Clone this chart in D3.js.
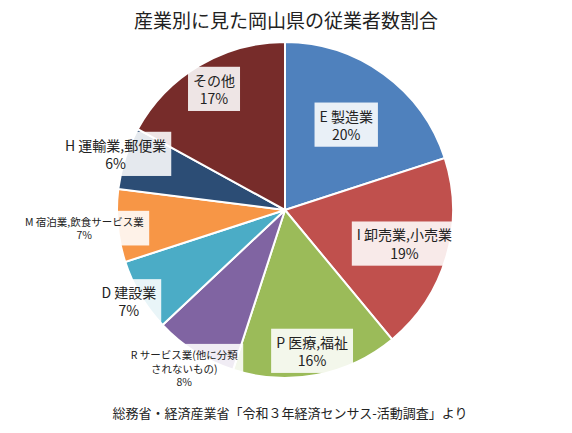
<!DOCTYPE html>
<html><head><meta charset="utf-8">
<script src="https://cdn.jsdelivr.net/npm/d3@7"></script>
<style>body{margin:0;background:#fff;font-family:"Noto Sans CJK JP",sans-serif}</style>
</head><body><svg id="chart" width="572" height="433"></svg>
<script>
// data
var categories = ["E 製造業", "I 卸売業,小売業", "P 医療,福祉", "R サービス業(他に分類|されないもの)", "D 建設業", "M 宿泊業,飲食サービス業", "H 運輸業,郵便業", "その他"];
var shares = [20, 19, 16, 8, 7, 7, 6, 17];
var colors = ["#4f81bd", "#c0504d", "#9bbb59", "#8064a2", "#4bacc6", "#f79646", "#2c4d75", "#772c2a"];
var small = [false, false, false, true, false, true, false, false];
// how far out each label sits, as a share of the pie radius
var labelPos = [0.62, 0.74, 0.86, 1.12, 1.08, 1.2, 1.06, 0.83];

var svg = d3.select("#chart");
var cx = 285, cy = 210, r = 168;

svg.append("text").attr("x", 286).attr("y", 28).attr("text-anchor", "middle")
  .style("font-size", "19px").attr("fill", "#222").text("産業別に見た岡山県の従業者数割合");

var pie = d3.pie().sort(null).value(function(d) { return d; });
var arcs = pie(shares);
var arc = d3.arc().innerRadius(0).outerRadius(r);

var g = svg.append("g").attr("transform", "translate(" + cx + "," + cy + ")");
g.selectAll("path").data(arcs).enter().append("path")
  .attr("d", arc).attr("fill", function(d, i) { return colors[i]; })
  .attr("stroke", "#fff").attr("stroke-width", 2);

// labels with white boxes
arcs.forEach(function(d, i) {
  var lr = r * labelPos[i];
  var c = d3.arc().innerRadius(lr).outerRadius(lr).centroid(d);
  var fs = small[i] ? 10.5 : 14;
  var lines = categories[i].split("|").concat([shares[i] + "%"]);
  var lg = g.append("g").attr("transform", "translate(" + c[0] + "," + c[1] + ")");
  var box = lg.append("rect").attr("fill", "#fff").attr("fill-opacity", 0.88);
  var t = lg.append("text").attr("text-anchor", "middle").style("font-size", fs + "px").attr("fill", "#222");
  lines.forEach(function(s, k) {
    t.append("tspan").attr("x", 0).attr("y", (k - (lines.length - 1) / 2) * fs * 1.3 + fs * 0.35).text(s);
  });
  var b = t.node().getBBox();
  box.attr("x", b.x - 5).attr("y", b.y - 3).attr("width", b.width + 10).attr("height", b.height + 6);
});

svg.append("text").attr("x", 290).attr("y", 418).attr("text-anchor", "middle")
  .style("font-size", "13px").attr("fill", "#222").text("総務省・経済産業省「令和３年経済センサス-活動調査」より");
</script></body></html>
